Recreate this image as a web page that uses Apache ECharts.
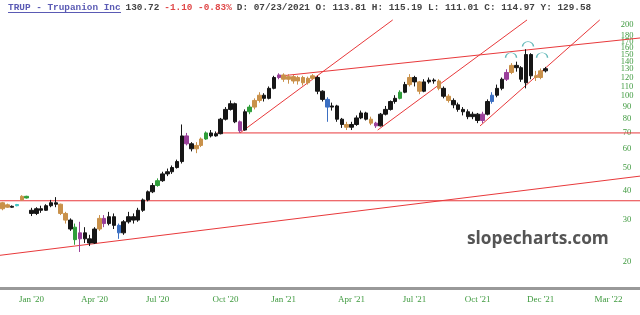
<!DOCTYPE html>
<html><head><meta charset="utf-8">
<script src="https://cdn.jsdelivr.net/npm/echarts@6/dist/echarts.min.js"></script>
<style>html,body{margin:0;padding:0;background:#fff}#c{width:640px;height:315px}</style>
</head><body><div id="c"></div>
<script>
// weekly candles (week index 0..112)
const opens = [35.5,34.0,34.0,34.5,36.5,37.2,33.0,32.0,33.5,33.0,34.5,35.5,35.0,32.0,30.0,28.0,25.0,26.5,25.0,24.0,
27.5,30.5,29.0,31.0,28.5,26.5,29.5,31.0,30.0,33.0,36.5,39.5,42.0,44.0,47.0,48.0,50.0,53.0,68.0,63.0,
60.0,62.0,66.0,70.0,68.0,69.5,80.0,88.0,93.0,78.0,72.0,86.0,90.0,96.0,101,98,108,120,123,118,
121,116,120,114,119,120,105,97,90,91,80,76,74,76,81,85,80,77,75,84,
88,95,98,104,112,120,115,105,115,117,116,108,100,96,92,88,86,82,84,79,
84,95,101,108,118,126,135,132,114,150,122,120,128];
const closes = [33.5,34.8,34.3,34.9,37.8,37.8,32.0,33.5,33.0,34.5,35.5,35.0,32.0,30.0,27.5,24.8,26.5,25.0,24.0,27.5,
30.5,29.0,31.0,28.5,26.5,29.5,31.0,30.0,33.0,36.5,39.5,42.0,44.0,47.0,48.0,50.0,53.0,68.0,63.0,60.0,
62.0,66.0,70.0,68.0,69.5,80.0,88.0,93.0,78.0,71.5,86.0,90.0,96.0,101,98,108,120,123,118,121,
116,120,114,119,122,105,97,90,91,80,76,74,76,81,85,80,77,75,84,88,
95,98,104,112,120,115,105,115,117,116,108,100,96,92,88,86,82,84,79,84,
95,101,108,118,126,135,132,118,150,122,120,128,130.7];
const lows = [33.0,33.8,33.8,34.3,36.2,37.0,31.2,31.5,32.2,32.8,34.0,34.0,31.5,29.0,27.0,23.6,22.0,24.0,23.3,23.8,
27.0,28.0,28.5,27.5,25.0,26.0,29.0,29.0,29.5,32.5,36.0,39.0,41.5,43.5,46.0,47.0,49.5,52.0,62.0,58.5,
57.5,61.0,65.5,67.0,67.5,69.0,79.0,87.0,77.0,70.0,71.5,84.0,88.0,94.0,95,97,107,118,115,113,
113,112,111,112,117,102,95,78,87,78,73.5,72,72,75,80,79,75.5,73.5,74.5,83,
87,93,97,103,110,110,102,104,113,113,106,98,94,89,86,83,80,80,77,77,
83,93,99,106,116,124,127,115,108,118,116,118,126];
const highs = [35.8,35.2,34.6,35.1,38.2,38.0,33.8,34.0,34.5,35.0,36.5,37.5,35.2,32.5,30.5,29.0,29.5,28.0,26.0,28.0,
31.5,31.5,32.5,32.0,29.0,30.0,32.5,32.0,33.8,37.0,40.0,43.0,45.0,48.0,49.5,51.0,54.0,76.0,70.0,64.0,
64.0,67.0,71.0,72.0,71.0,81.0,90.0,96.0,94.0,79.0,88.0,92.0,98.0,104,103,110,122,125,125,124,
123,122,122,121,124,122,106,99,94,92,81,78,78,83,87,86,82,78,85,91,
96,101,106,115,124,122,116,118,120,119,118,110,102,98,94,90,88,86,85,86,
97,104,112,120,130,138,140,134,158,152,128,131,133];
// bar colour class per week: k black, o orange, p purple, g green, b blue, c cyan
const signals = ['o','o','k','c','o','g','k','k','k','k','k','k','o','o','k','g','p','k','k','k',
'o','p','k','k','b','k','k','k','k','k','k','k','g','k','k','k','k','k','p','k',
'o','o','g','k','k','k','k','k','k','p','k','g','o','o','k','k','k','p','o','o',
'o','o','o','o','o','k','k','b','k','k','k','o','k','k','k','k','o','p','k','k',
'k','k','g','k','o','k','o','k','k','k','o','k','o','k','k','k','k','k','k','p',
'k','b','k','k','p','o','k','k','k','k','o','o','k'];
const weekCount = 132;
const tickWeeks = [6,19,32,46,58,72,85,98,111,125];
const tickLabels = ["Jan '20","Apr '20","Jul '20","Oct '20","Jan '21","Apr '21","Jul '21","Oct '21","Dec '21","Mar '22"];
const priceTicks = [20,30,40,50,60,70,80,90,100,110,120,130,140,150,160,170,180,190,200];
// trend lines: [week, price] end points
const trendLines = [
  [[-0.5,21.3],[131.5,46.0]],
  [[-0.5,36.2],[131.5,36.2]],
  [[44.2,70.0],[131.5,70.0]],
  [[49.0,70.0],[80.5,210]],
  [[57.2,121.7],[131.5,176.2]],
  [[77.4,72.0],[108.2,210]],
  [[98.5,74.9],[123.2,210]]
];
const arcMarks = [[104.9,149],[108.4,166],[111.3,149]];

const palette = {k:'#161616',o:'#c9914a',p:'#9a3f9a',g:'#2f9e3a',b:'#3b6fc2',c:'#3fc3c3'};
const categories = Array.from({length: weekCount}, (_, i) => 'w' + i);
const candleData = opens.map((o, i) => {
  const col = palette[signals[i]];
  return {value: [o, closes[i], lows[i], highs[i]],
    itemStyle: {color: col, color0: col, borderColor: col, borderColor0: col}};
});
const lineSeries = trendLines.map(seg => ({
  type: 'line', xAxisIndex: 1, yAxisIndex: 0, data: seg, symbol: 'none', silent: true,
  lineStyle: {color: '#e8393b', width: 1}, clip: true, z: 3, animation: false
}));

const chart = echarts.init(document.getElementById('c'), null, {renderer: 'canvas'});
const mono = {fontFamily: 'Liberation Mono', fontSize: 9.4, lineHeight: 10};
chart.setOption({
  animation: false,
  backgroundColor: '#fff',
  title: {
    left: 8, top: 3, padding: 0,
    text: '{a|TRUP - Trupanion Inc} {b|130.72} {c|-1.10 -0.83%} {b|D: 07/23/2021 O: 113.81 H: 115.19 L: 111.01 C: 114.97 Y: 129.58}',
    textStyle: {
      lineHeight: 10,
      rich: {
        a: Object.assign({color: '#5a5ab4'}, mono),
        b: Object.assign({color: '#444'}, mono),
        c: Object.assign({color: '#e04848'}, mono)
      }
    }
  },
  graphic: [
    {type: 'line', shape: {x1: 8, y1: 12.5, x2: 121, y2: 12.5}, style: {stroke: '#5a5ab4', lineWidth: 1}},
    {type: 'text', left: 467, top: 231, style: {text: 'slopecharts.com', font: 'bold 17.3px "Open Sans"', fill: '#555'}}
  ],
  grid: {left: 0, right: 0, top: 18, bottom: 27},
  xAxis: [
    {type: 'category', data: categories, boundaryGap: true,
      axisLine: {lineStyle: {color: '#999', width: 3}},
      axisTick: {show: false},
      splitLine: {show: false},
      axisLabel: {
        interval: (i) => tickWeeks.includes(i),
        formatter: (v, i) => { const k = tickWeeks.indexOf(i); return k >= 0 ? tickLabels[k] : ''; },
        color: '#3f9a3f', fontFamily: 'Liberation Serif', fontSize: 9, margin: 7
      }},
    {type: 'value', min: -0.5, max: weekCount - 0.5, show: false}
  ],
  yAxis: {
    type: 'log', logBase: 10, min: 15.5, max: 214, position: 'right',
    axisLine: {show: false}, axisTick: {show: false}, splitLine: {show: false}, minorTick: {show: false},
    axisLabel: {inside: true, customValues: priceTicks, color: '#3f9a3f', fontFamily: 'Liberation Serif',
      fontSize: 8.5, margin: 13, align: 'center', showMinLabel: true, showMaxLabel: true}
  },
  series: [
    {type: 'candlestick', xAxisIndex: 0, yAxisIndex: 0, data: candleData, barWidth: 4, z: 4},
    ...lineSeries,
    {type: 'scatter', xAxisIndex: 1, yAxisIndex: 0, data: arcMarks, silent: true, z: 5,
      symbol: 'path://M0,8 A8,8 0 0 1 16,8', symbolSize: [11, 5],
      itemStyle: {color: 'rgba(0,0,0,0)', borderColor: '#3aa6a6', borderWidth: 1}}
  ]
});
</script></body></html>
